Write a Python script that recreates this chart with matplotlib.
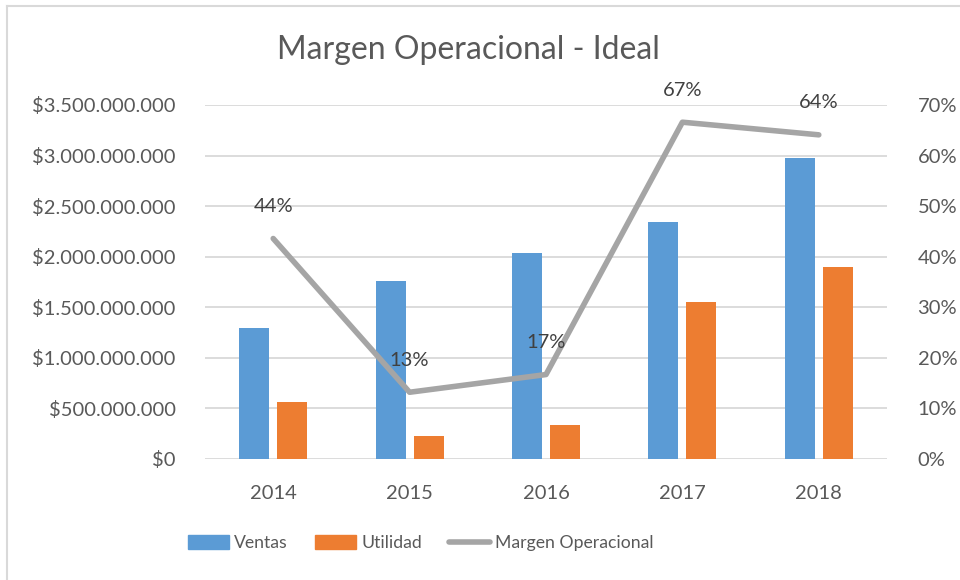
import numpy as np
import matplotlib
matplotlib.use("Agg")
from matplotlib import pyplot as plt
from matplotlib.ticker import FuncFormatter, MultipleLocator
from matplotlib.lines import Line2D
from matplotlib.patches import Patch

plt.rcParams['font.family'] = ['Lato', 'DejaVu Sans']

years = ["2014", "2015", "2016", "2017", "2018"]
ventas = [1297e6, 1759e6, 2040e6, 2339e6, 2974e6]
utilidad = [563e6, 227e6, 336e6, 1554e6, 1900e6]
margen = [0.436, 0.132, 0.167, 0.666, 0.641]
margen_labels = ["44%", "13%", "17%", "67%", "64%"]

c_ventas = "#5B9BD5"
c_util = "#ED7D31"
c_line = "#A5A5A5"
c_text = "#595959"
c_grid = "#D9D9D9"

fig = plt.figure(figsize=(9.6, 5.8), dpi=100)
ax = fig.add_axes([205/960, 1-459/580, (887-205)/960, (459-105)/580])
ax2 = ax.twinx()

x = np.arange(len(years))
w = 0.22
ax.bar(x - 0.14, ventas, w, color=c_ventas, zorder=2)
ax.bar(x + 0.14, utilidad, w, color=c_util, zorder=2)

ax.set_xlim(-0.5, len(years) - 0.5)
ax.set_ylim(0, 3.5e9)
ax.yaxis.set_major_locator(MultipleLocator(5e8))

def money(v, pos):
    if v == 0:
        return "$0"
    return "$" + "{:,.0f}".format(v).replace(",", ".")

ax.yaxis.set_major_formatter(FuncFormatter(money))
ax.grid(axis="y", color=c_grid, linewidth=1.3, zorder=0)
ax.set_axisbelow(True)
ax.set_xticks(x)
ax.set_xticklabels(years)

ax2.plot(x, margen, color=c_line, linewidth=4, solid_capstyle="round", zorder=3)
ax2.set_ylim(0, 0.7)
ax2.yaxis.set_major_locator(MultipleLocator(0.1))
ax2.yaxis.set_major_formatter(FuncFormatter(lambda v, p: "{:.0f}%".format(v * 100)))

for xi, m, lab in zip(x, margen, margen_labels):
    ax2.annotate(lab, (xi, m), xytext=(0, 23), textcoords="offset points",
                 ha="center", va="center", fontsize=14.5, color="#404040")

for a in (ax, ax2):
    for s in a.spines.values():
        s.set_visible(False)
    a.tick_params(length=0, colors=c_text, labelsize=14.5)
ax.tick_params(axis="y", pad=21)
ax.tick_params(axis="x", pad=19)
ax2.tick_params(axis="y", pad=22)

fig.text(468/960, 1 - 50/580, "Margen Operacional - Ideal", ha="center", va="center",
         fontsize=23, color=c_text)

handles = [Patch(color=c_ventas), Patch(color=c_util),
           Line2D([0], [0], color=c_line, linewidth=4, solid_capstyle="round")]
fig.legend(handles, ["Ventas", "Utilidad", "Margen Operacional"],
           loc="center", bbox_to_anchor=(421/960, 1 - 543/580), ncol=3, frameon=False,
           fontsize=12.7, labelcolor=c_text, handlelength=2.3, handleheight=0.8,
           handletextpad=0.3, columnspacing=1.55)

fig.add_artist(Line2D([7/960, 1], [1 - 6/580, 1 - 6/580], color=c_grid, linewidth=1.5))
fig.add_artist(Line2D([7/960, 7/960], [0, 1 - 6/580], color=c_grid, linewidth=1.5))

fig.savefig("out.png", dpi=100)
